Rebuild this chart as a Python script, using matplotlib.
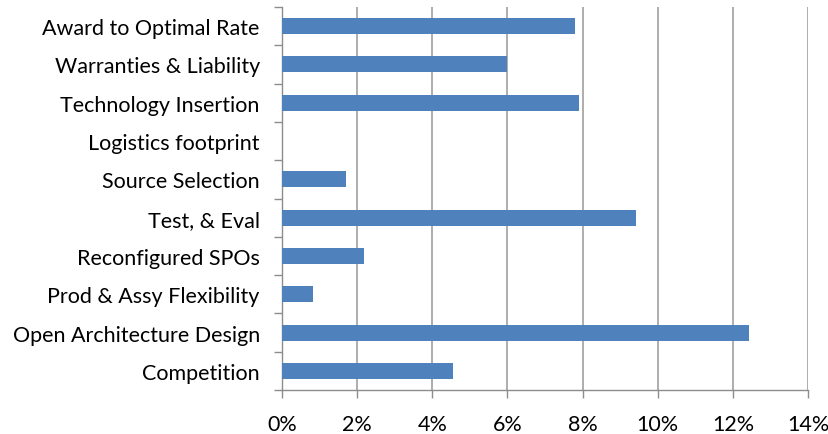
import numpy as np
import matplotlib
matplotlib.use("Agg")
import matplotlib.pyplot as plt
from matplotlib.ticker import FixedLocator, PercentFormatter

plt.rcParams['font.family'] = ['Lato', 'DejaVu Sans']

categories = ["Competition", "Open Architecture Design", "Prod & Assy Flexibility",
              "Reconfigured SPOs", "Test, & Eval", "Source Selection",
              "Logistics footprint", "Technology Insertion",
              "Warranties & Liability", "Award to Optimal Rate"]
values = [4.55, 12.42, 0.83, 2.18, 9.43, 1.70, 0.0, 7.91, 6.0, 7.81]
xticks = [0, 2, 4, 6, 8, 10, 12, 14]

fig = plt.figure(figsize=(8.29, 4.35), dpi=100)
ax = fig.add_axes([0.3402, 0.1011, 0.6345, 0.8805])

y = np.arange(len(categories))
ax.barh(y, values, height=0.42, color="#4f81bd", edgecolor="none", zorder=3)

ax.set_xlim(0, 14)
ax.set_ylim(-0.5, len(categories) - 0.5)
ax.set_xticks(xticks)
ax.xaxis.set_major_formatter(PercentFormatter(decimals=0))
ax.set_yticks(y)
ax.set_yticklabels(categories)
ax.yaxis.set_minor_locator(FixedLocator(np.arange(-0.5, len(categories), 1.0)))

ax.grid(axis="x", color="#a0a0a0", linewidth=1.2, zorder=0)
for s in ["top", "right"]:
    ax.spines[s].set_visible(False)
for s in ["left", "bottom"]:
    ax.spines[s].set_color("#8c8c8c")
    ax.spines[s].set_linewidth(1.0)

ax.tick_params(axis="y", which="major", length=0, pad=16, labelsize=15.5, colors="#000000")
ax.tick_params(axis="y", which="minor", length=6, color="#8c8c8c", width=1.0)
ax.tick_params(axis="x", which="major", length=6, color="#8c8c8c", width=1.0, pad=11, labelsize=15.5)

fig.savefig("out.png", dpi=100)
